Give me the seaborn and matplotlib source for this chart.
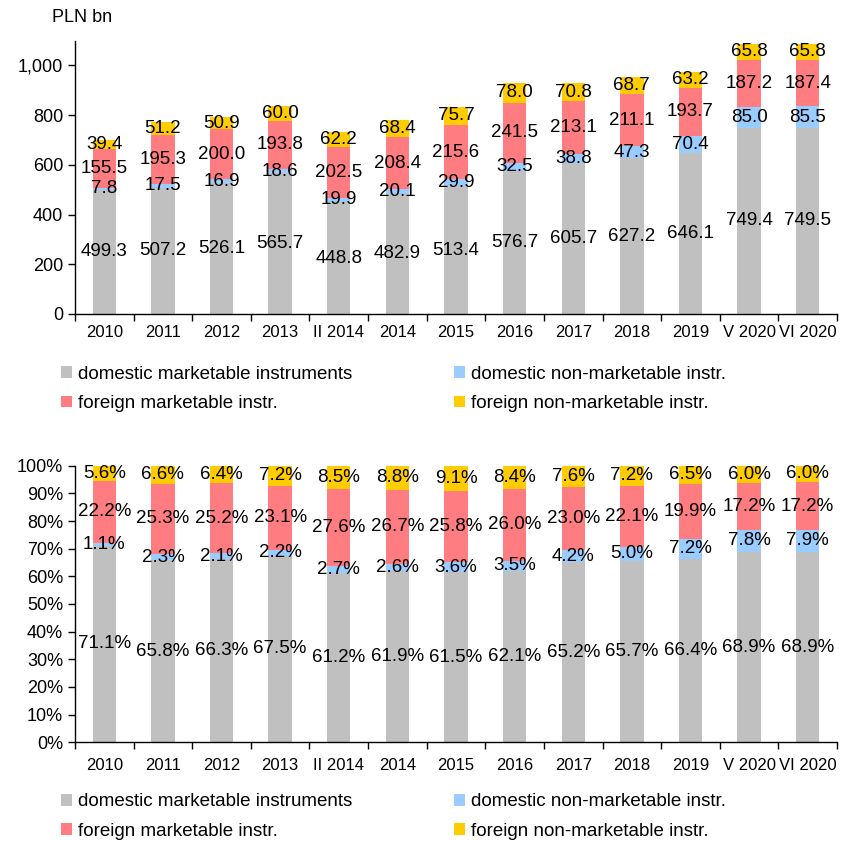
import numpy as np
import pandas as pd
import matplotlib
matplotlib.use('Agg')
import matplotlib.pyplot as plt
from matplotlib.ticker import FuncFormatter, FixedLocator
from matplotlib.patches import Patch
import seaborn as sns

periods = ['2010', '2011', '2012', '2013', 'II 2014', '2014', '2015', '2016',
           '2017', '2018', '2019', 'V 2020', 'VI 2020']

# PLN bn
dom_mkt = [499.3, 507.2, 526.1, 565.7, 448.8, 482.9, 513.4, 576.7, 605.7, 627.2, 646.1, 749.4, 749.5]
dom_nonmkt = [7.8, 17.5, 16.9, 18.6, 19.9, 20.1, 29.9, 32.5, 38.8, 47.3, 70.4, 85.0, 85.5]
for_mkt = [155.5, 195.3, 200.0, 193.8, 202.5, 208.4, 215.6, 241.5, 213.1, 211.1, 193.7, 187.2, 187.4]
for_nonmkt = [39.4, 51.2, 50.9, 60.0, 62.2, 68.4, 75.7, 78.0, 70.8, 68.7, 63.2, 65.8, 65.8]

# shares, %
pct_dom_mkt = [71.1, 65.8, 66.3, 67.5, 61.2, 61.9, 61.5, 62.1, 65.2, 65.7, 66.4, 68.9, 68.9]
pct_dom_nonmkt = [1.1, 2.3, 2.1, 2.2, 2.7, 2.6, 3.6, 3.5, 4.2, 5.0, 7.2, 7.8, 7.9]
pct_for_mkt = [22.2, 25.3, 25.2, 23.1, 27.6, 26.7, 25.8, 26.0, 23.0, 22.1, 19.9, 17.2, 17.2]
pct_for_nonmkt = [5.6, 6.6, 6.4, 7.2, 8.5, 8.8, 9.1, 8.4, 7.6, 7.2, 6.5, 6.0, 6.0]

names = ['domestic marketable instruments', 'domestic non-marketable instr.',
         'foreign marketable instr.', 'foreign non-marketable instr.']
colors = ['#C0C0C0', '#99CCFF', '#FF7C80', '#FFCC00']

sns.set_style('white')
plt.rcParams['font.family'] = ['Liberation Sans', 'DejaVu Sans']
plt.rcParams['text.color'] = 'black'
plt.rcParams['xtick.color'] = 'black'
plt.rcParams['ytick.color'] = 'black'

fig = plt.figure(figsize=(8.53, 8.41), dpi=100)
ax1 = fig.add_axes([75/853, 1-314/841, (837-75)/853, (314-40.6)/841])
ax2 = fig.add_axes([75/853, 1-742.3/841, (837-75)/853, (742.3-465.7)/841])


def stacked(ax, series, fmt):
    df = pd.DataFrame({'period': periods})
    cum = np.zeros(len(periods))
    bottoms = []
    for s in series:
        bottoms.append(cum.copy())
        cum = cum + np.array(s)
        df['c%d' % len(bottoms)] = cum
    # draw tallest first so shorter cumulative bars sit on top
    for k in range(len(series), 0, -1):
        sns.barplot(data=df, x='period', y='c%d' % k, color=colors[k-1],
                    saturation=1, width=0.4, ax=ax, linewidth=0)
    for s, b in zip(series, bottoms):
        for i, v in enumerate(s):
            ax.text(i, b[i] + v/2, fmt(v), ha='center', va='center',
                    fontsize=13.5, color='black')
    ax.set_xlabel('')
    ax.set_ylabel('')
    ax.set_xlim(-0.5, len(periods) - 0.5)
    ax.xaxis.set_minor_locator(FixedLocator(np.arange(-0.5, len(periods), 1)))
    ax.tick_params(axis='x', which='major', length=0, labelsize=12, pad=8)
    ax.tick_params(axis='x', which='minor', length=5, width=1, color='black', direction='out', bottom=True)
    ax.tick_params(axis='y', length=5, width=1, color='black', direction='out', left=True, labelsize=13)
    sns.despine(ax=ax)
    for sp in ['left', 'bottom']:
        ax.spines[sp].set_color('black')
        ax.spines[sp].set_linewidth(1)


stacked(ax1, [dom_mkt, dom_nonmkt, for_mkt, for_nonmkt], lambda v: '%.1f' % v)
ax1.set_ylim(0, 1100)
ax1.set_yticks([0, 200, 400, 600, 800, 1000])
ax1.yaxis.set_major_formatter(FuncFormatter(lambda v, p: '{:,.0f}'.format(v)))
fig.text(52/853, 1-18/841, 'PLN bn', fontsize=13, va='center', ha='left')

stacked(ax2, [pct_dom_mkt, pct_dom_nonmkt, pct_for_mkt, pct_for_nonmkt], lambda v: '%.1f%%' % v)
ax2.set_ylim(0, 100)
ax2.set_yticks(range(0, 101, 10))
ax2.yaxis.set_major_formatter(FuncFormatter(lambda v, p: '%d%%' % v))
ax2.tick_params(axis='x', which='major', pad=11)

handles = [Patch(facecolor=c, edgecolor='none') for c in colors]
for ymid in [389, 816.5]:
    for cols, x0 in [((0, 2), 61), ((1, 3), 454)]:
        fig.legend([handles[j] for j in cols], [names[j] for j in cols],
                   loc='center left', bbox_to_anchor=(x0/853, 1-ymid/841),
                   frameon=False, borderpad=0, borderaxespad=0,
                   handlelength=0.6, handleheight=0.6, handletextpad=0.3,
                   labelspacing=0.65, prop={'size': 13.5})

fig.savefig('out.png', dpi=100)
